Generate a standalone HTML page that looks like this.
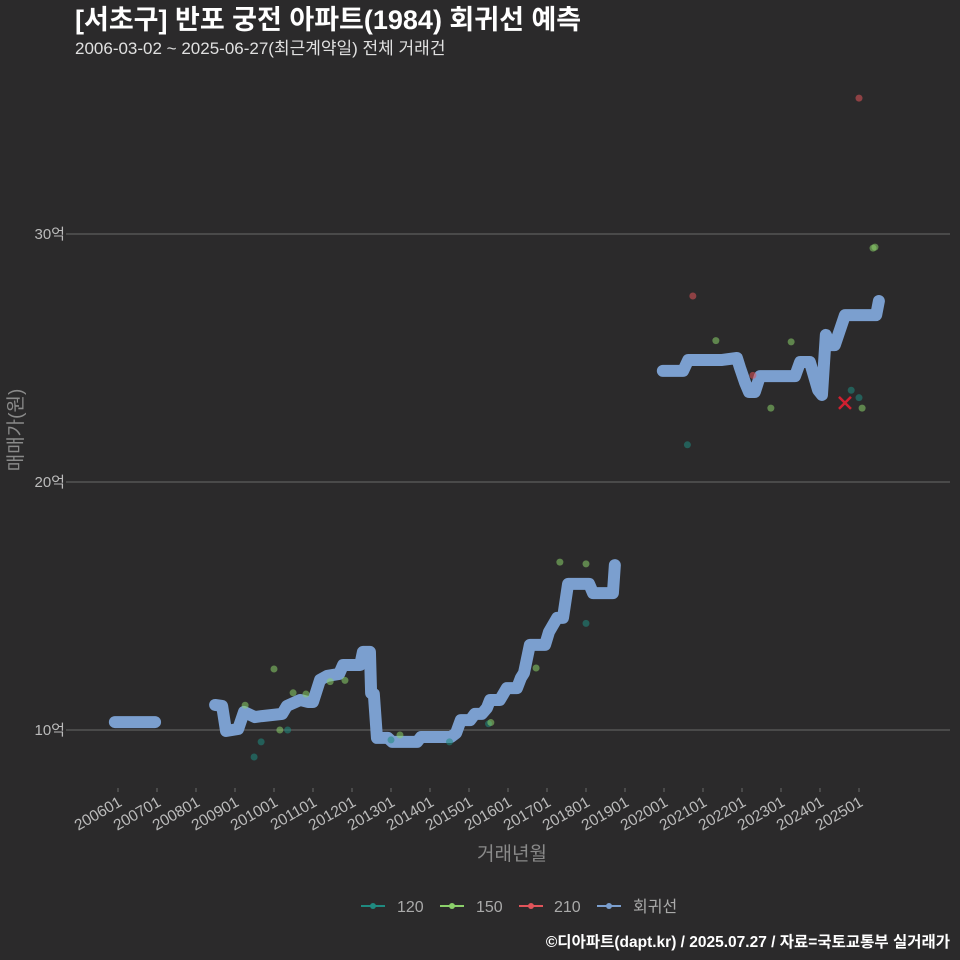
<!DOCTYPE html>
<html><head><meta charset="utf-8">
<style>
html,body{margin:0;background:#2b2a2b;overflow:hidden;width:960px;height:960px;}
svg{display:block;}
svg text{font-family:"Liberation Sans","Noto Sans CJK KR",sans-serif;}
</style></head>
<body>
<svg id="chart" width="960" height="960" xmlns="http://www.w3.org/2000/svg">
<rect width="960" height="960" fill="#2b2a2b"/>
<text x="75" y="29" fill="#ffffff" font-size="27" font-weight="bold">[서초구] 반포 궁전 아파트(1984) 회귀선 예측</text>
<text x="75" y="54" fill="#e0e0e0" font-size="17">2006-03-02 ~ 2025-06-27(최근계약일) 전체 거래건</text>
<g id="grid"></g><g id="xaxis"></g><g id="line"></g><g id="pts"></g>
<text transform="translate(22,430) rotate(-90)" text-anchor="middle" fill="#8a8a8a" font-size="19">매매가(원)</text>
<text x="512" y="860" text-anchor="middle" fill="#8a8a8a" font-size="19">거래년월</text>
<g font-size="16" fill="#aaaaaa">
<g><line x1="361" y1="906" x2="385" y2="906" stroke="#1f8a80" stroke-width="2"/><circle cx="373" cy="906" r="3" fill="#1f8a80"/><text x="397" y="912">120</text></g>
<g><line x1="440" y1="906" x2="464" y2="906" stroke="#8bd06a" stroke-width="2"/><circle cx="452" cy="906" r="3" fill="#8bd06a"/><text x="476" y="912">150</text></g>
<g><line x1="519" y1="906" x2="543" y2="906" stroke="#e0545a" stroke-width="2"/><circle cx="531" cy="906" r="3" fill="#e0545a"/><text x="554" y="912">210</text></g>
<g><line x1="597" y1="906" x2="621" y2="906" stroke="#7b9fcf" stroke-width="2"/><circle cx="609" cy="906" r="3" fill="#7b9fcf"/><text x="633" y="912">회귀선</text></g>
</g>
<text x="950" y="947" text-anchor="end" fill="#ffffff" font-size="15.5" font-weight="bold">©디아파트(dapt.kr) / 2025.07.27 / 자료=국토교통부 실거래가</text>
</svg>
<script>
const yTicks=[10,20,30];
const yTickLabels=["10억","20억","30억"];
const xTickYears=[2006,2007,2008,2009,2010,2011,2012,2013,2014,2015,2016,2017,2018,2019,2020,2021,2022,2023,2024,2025];
const regSeg1T=[2005.92,2006.95];
const regSeg1V=[10.32,10.32];
const regSeg2T=[2008.49,2008.67,2008.77,2009.08,2009.23,2009.51,2009.69,2010.21,2010.33,2010.67,2010.87,2011.0,2011.18,2011.36,2011.67,2011.77,2012.21,2012.28,2012.46,2012.49,2012.56,2012.64,2012.92,2013.03,2013.67,2013.77,2014.54,2014.67,2014.79,2015.03,2015.15,2015.33,2015.46,2015.54,2015.79,2015.97,2016.23,2016.33,2016.41,2016.56,2016.95,2017.05,2017.26,2017.41,2017.54,2018.08,2018.18,2018.69,2018.74];
const regSeg2V=[11.01,10.97,9.96,10.04,10.73,10.52,10.56,10.65,10.97,11.21,11.13,11.13,12.02,12.18,12.26,12.62,12.62,13.15,13.15,11.49,11.45,9.68,9.68,9.52,9.52,9.72,9.72,9.88,10.4,10.4,10.65,10.65,10.89,11.21,11.21,11.69,11.69,12.1,12.3,13.43,13.43,13.95,14.52,14.52,15.89,15.89,15.52,15.52,16.65];
const regSeg3T=[2019.97,2020.49,2020.62,2021.49,2021.87,2021.95,2022.08,2022.18,2022.33,2022.46,2023.36,2023.49,2023.74,2023.95,2024.05,2024.15,2024.26,2024.38,2024.64,2025.44,2025.51];
const regSeg3V=[24.48,24.48,24.92,24.92,25.0,24.6,24.0,23.63,23.63,24.27,24.27,24.84,24.84,23.71,23.51,25.93,25.52,25.52,26.73,26.73,27.3];
const p120T=[2009.67,2009.49,2010.35,2014.5,2013.0,2015.5,2018.0,2020.6,2024.8,2025.0];
const p120V=[9.52,8.91,10.0,9.52,9.6,10.25,14.3,21.5,23.7,23.4];
const p150T=[2009.26,2010.0,2010.49,2010.15,2010.82,2011.82,2011.44,2013.23,2015.56,2016.72,2017.33,2018.0,2021.33,2023.26,2022.74,2025.08,2025.36,2025.41];
const p150V=[11.0,12.46,11.5,10.0,11.45,12.0,11.95,9.8,10.3,12.5,16.77,16.7,25.7,25.65,22.98,22.98,29.43,29.47];
const p210T=[2025.0,2020.74,2022.28];
const p210V=[35.48,27.5,24.3];
const xMarkT=[2024.64];
const xMarkV=[23.19];

const NS="http://www.w3.org/2000/svg";
const X=t=>118+(t-2006)*39;
const Y=v=>730-(v-10)*24.8;
function mk(tag,attrs,parent){const e=document.createElementNS(NS,tag);for(const k in attrs)e.setAttribute(k,attrs[k]);parent.appendChild(e);return e;}
const grid=document.getElementById('grid');
yTicks.forEach((v,i)=>{
  const l=mk('line',{x1:70,x2:950,y1:Y(v),y2:Y(v),stroke:'#6a6a6a','stroke-width':1},grid);
  
  
  mk('line',{x1:66,x2:70,y1:Y(v),y2:Y(v),stroke:'#6a6a6a'},grid);
  const tx=mk('text',{x:65,y:Y(v)+5,'text-anchor':'end',fill:'#bbbbbb','font-size':15},grid);
  tx.textContent=yTickLabels[i];
  
  
});
const xa=document.getElementById('xaxis');
xTickYears.forEach(yr=>{
  const x=X(yr);
  mk('line',{x1:x,x2:x,y1:788,y2:792,stroke:'#6a6a6a'},xa);
  const tx=mk('text',{transform:`translate(${x+5},${805}) rotate(-30)`,'text-anchor':'end',fill:'#bbbbbb','font-size':15.5},xa);
  tx.textContent=yr+'01';
  
  
});
const lg=document.getElementById('line');
[[regSeg1T,regSeg1V],[regSeg2T,regSeg2V],[regSeg3T,regSeg3V]].forEach(([ts,vs])=>{
  const p=mk('polyline',{points:ts.map((t,i)=>X(t)+','+Y(vs[i])).join(' '),fill:'none',stroke:'#7b9fcf','stroke-width':12,'stroke-linecap':'round','stroke-linejoin':'round'},lg);
  
  
});
const pg=document.getElementById('pts');
function pts(ts,vs,col,name){ts.forEach((t,i)=>{
  const c=mk('circle',{cx:X(t),cy:Y(vs[i]),r:3.5,fill:col,'fill-opacity':0.55},pg);
  
  
});}
pts(p120T,p120V,'#1f8a80','point-120');
pts(p150T,p150V,'#8bd06a','point-150');
pts(p210T,p210V,'#e0545a','point-210');
xMarkT.forEach((t,i)=>{
  const x=X(t),y=Y(xMarkV[i]);
  const p=mk('path',{d:`M${x-6},${y-6}L${x+6},${y+6}M${x-6},${y+6}L${x+6},${y-6}`,stroke:'#d02030','stroke-width':2.5},pg);
  
  
});
</script>
</body></html>
